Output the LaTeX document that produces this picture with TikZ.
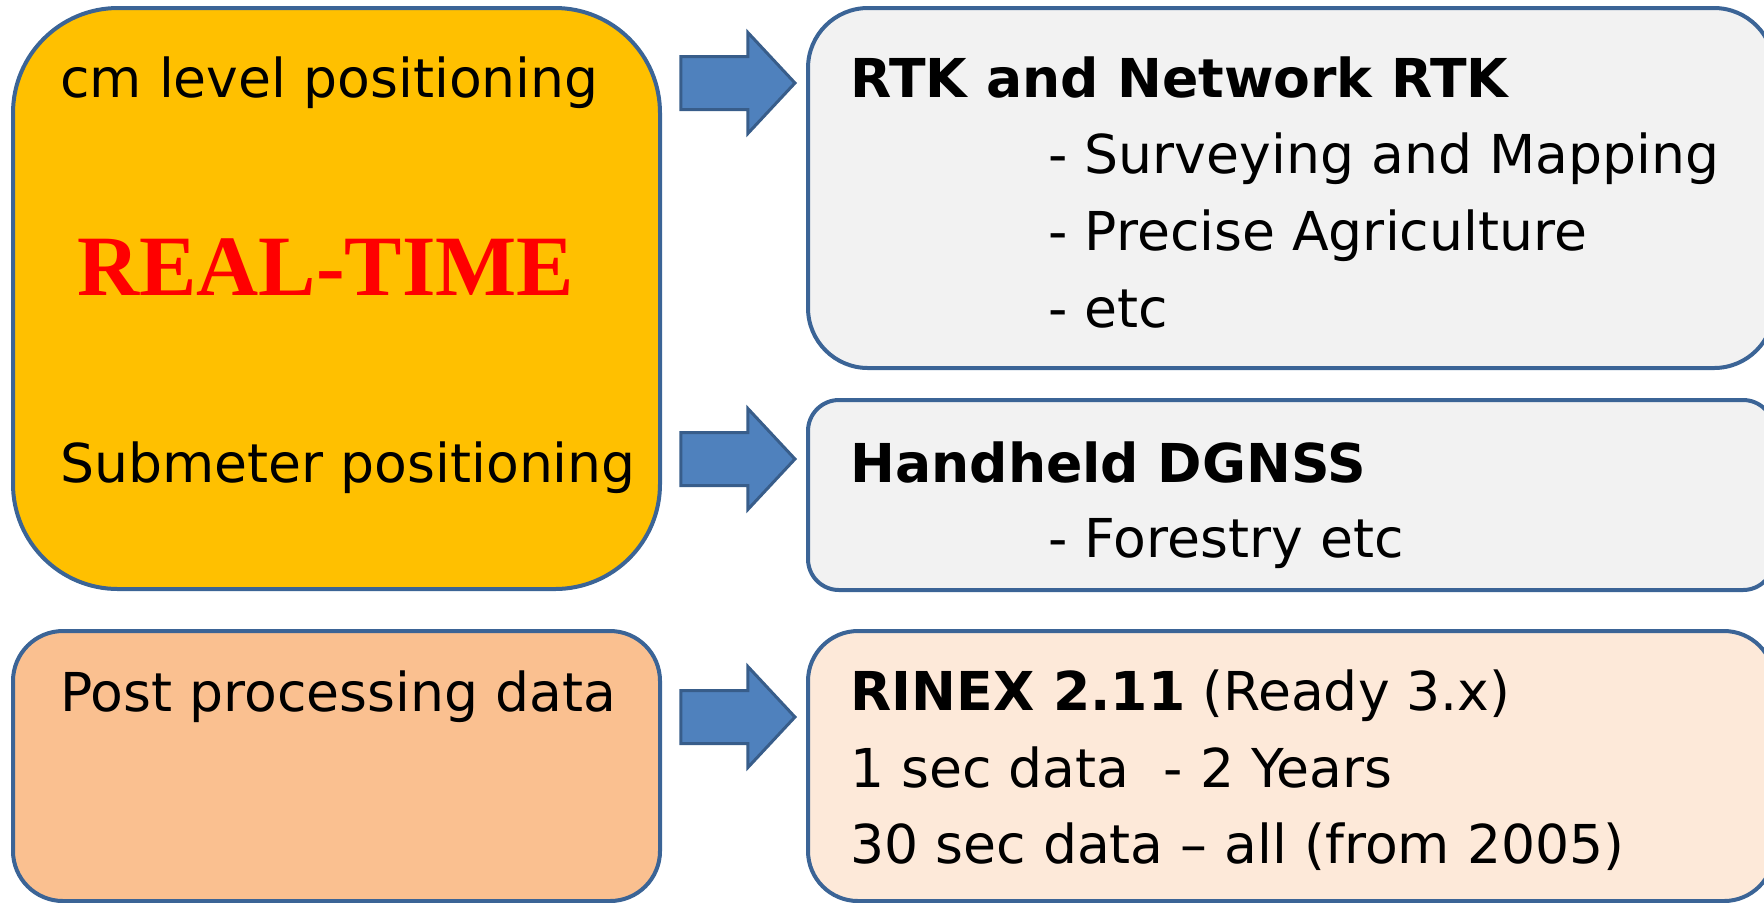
\documentclass[tikz,border=0pt]{standalone}
\usepackage{fontspec}
\setmainfont{DejaVu Sans}
\newfontfamily\rtfont{Liberation Serif}
\usetikzlibrary{shapes.arrows}

\definecolor{boxline}{HTML}{3B6496}
\definecolor{rtfill}{HTML}{FFC000}
\definecolor{grayfill}{HTML}{F2F2F2}
\definecolor{peachfill}{HTML}{FAC090}
\definecolor{lightpeach}{HTML}{FDE9D9}
\definecolor{arrowfill}{HTML}{4F81BD}
\definecolor{arrowline}{HTML}{385D8A}
\definecolor{rtred}{HTML}{FF0000}

\tikzset{
  box/.style={draw=boxline, line width=2pt, inner sep=0pt},
  leftbox/.style={box, minimum width=323.5pt},
  rightbox/.style={box, minimum width=483pt},
  txt/.style={anchor=base west, inner sep=0pt, font=\fontsize{26.8}{30}\selectfont},
  headtxt/.style={txt, font=\fontsize{26.8}{30}\selectfont\bfseries},
  blockarrow/.style={shape=single arrow, draw=arrowline, fill=arrowfill,
    line width=1.5pt, minimum height=57pt, inner xsep=0pt, inner ysep=12.5pt,
    single arrow head extend=12pt, single arrow tip angle=94, anchor=tip}
}

\begin{document}
\begin{tikzpicture}[x=0.5pt, y=-0.5pt]
  \useasboundingbox (0,0) rectangle (1764,902);

  \node[leftbox, fill=rtfill, minimum height=290.5pt, rounded corners=52.5pt] (realtime) at (336.5,298.5) {};
  \node[leftbox, fill=peachfill, minimum height=135pt, rounded corners=25pt] (postproc) at (336.5,766) {};
  \node[rightbox, fill=grayfill, minimum height=180pt, rounded corners=30pt] (rtk) at (1291,188) {};
  \node[rightbox, fill=grayfill, minimum height=95pt, rounded corners=15.5pt] (dgnss) at (1291,495) {};
  \node[rightbox, fill=lightpeach, minimum height=135pt, rounded corners=25pt] (rinex) at (1291,766) {};

  \node[blockarrow] (arrowrtk) at (797,83) {};
  \node[blockarrow] (arrowdgnss) at (797,459) {};
  \node[blockarrow] (arrowrinex) at (797,717) {};

  \node[txt] (cmlevel) at (60,97) {cm level positioning};
  \node[txt, font=\fontsize{43}{48}\selectfont\rtfont\bfseries, text=rtred] (rtlabel) at (77,295) {REAL-TIME};
  \node[txt] (submeter) at (60,482) {Submeter positioning};
  \node[txt] (posttxt) at (60,711) {Post processing data};

  \node[headtxt] (rtkhead) at (850,97) {RTK and Network RTK};
  \node[txt] (survey) at (1048,173) {- Surveying and Mapping};
  \node[txt] (agri) at (1048,250) {- Precise Agriculture};
  \node[txt] (rtketc) at (1048,327) {- etc};

  \node[headtxt] (dgnsshead) at (850,482) {Handheld DGNSS};
  \node[txt] (forestry) at (1048,557) {- Forestry etc};

  \node[txt] (rinexhead) at (850,710) {\textbf{RINEX 2.11} (Ready 3.x)};
  \node[txt] (onesec) at (850,787) {1 sec data\ \ - 2 Years};
  \node[txt] (thirtysec) at (850,863) {30 sec data – all (from 2005)};
\end{tikzpicture}
\end{document}
